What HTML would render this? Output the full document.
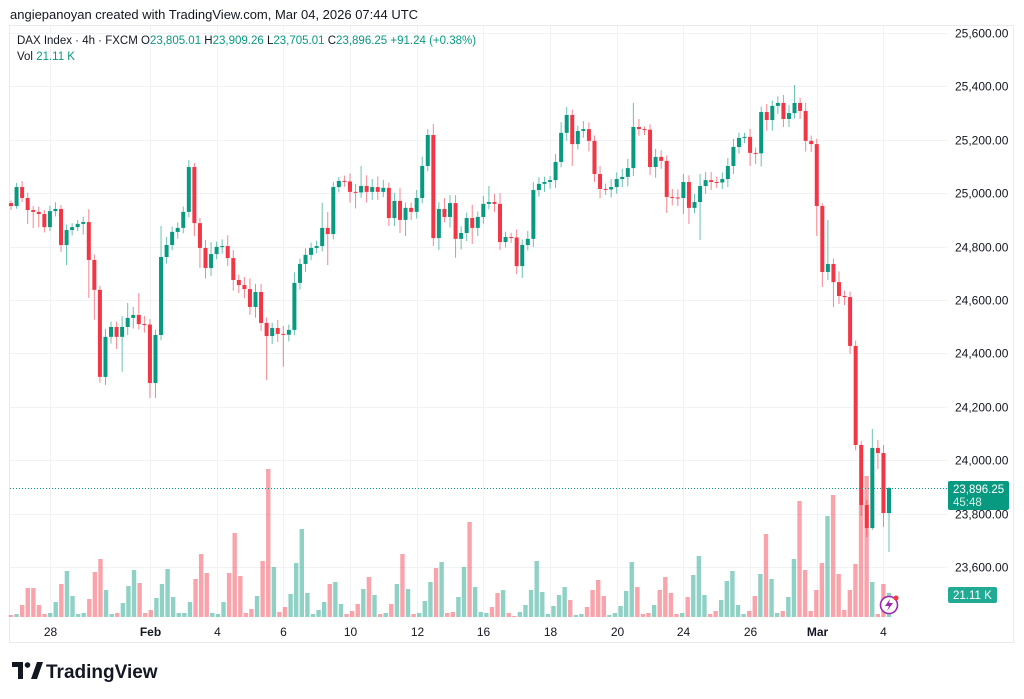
<!DOCTYPE html>
<html><head><meta charset="utf-8">
<style>
body{margin:0;background:#fff;font-family:"Liberation Sans",sans-serif;}
#wrap{position:relative;width:1024px;height:699px;overflow:hidden;background:#fff;}
svg text{font-family:"Liberation Sans",sans-serif;}
</style></head>
<body>
<div id="wrap">
<svg id="chart" width="1024" height="699" viewBox="0 0 1024 699">
  <text x="10" y="19" font-size="13" fill="#131722">angiepanoyan created with TradingView.com, Mar 04, 2026 07:44 UTC</text>
  <rect x="9.5" y="25.5" width="1004" height="617" fill="none" stroke="#e8eaee"/>
  <g id="grid"></g>
  <g id="vol"></g>
  <g id="candles"></g>
  <g id="axis"></g>
  <g id="taxis"></g>
  <line x1="10" x2="947" y1="488.5" y2="488.5" stroke="#089981" stroke-dasharray="1 2"/>
  <g>
    <rect x="948" y="481" width="61" height="29" rx="2" fill="#089981"/>
    <text x="953" y="493" font-size="11.5" fill="#fff">23,896.25</text>
    <text x="953" y="506" font-size="11.5" fill="#d8efe9">45:48</text>
  </g>
  <g>
    <rect x="948" y="587" width="49" height="16" rx="2" fill="#22ab94"/>
    <text x="953" y="599" font-size="11.5" fill="#fff">21.11 K</text>
  </g>
  <g>
    <text x="17" y="44" font-size="11.5" fill="#131722">DAX Index · 4h · FXCM <tspan>O</tspan><tspan fill="#089981">23,805.01</tspan><tspan>  H</tspan><tspan fill="#089981">23,909.26</tspan><tspan>  L</tspan><tspan fill="#089981">23,705.01</tspan><tspan>  C</tspan><tspan fill="#089981">23,896.25  +91.24 (+0.38%)</tspan></text>
    <text x="17" y="60" font-size="11.5" fill="#131722">Vol  <tspan fill="#089981">21.11 K</tspan></text>
  </g>
  <g>
    <circle cx="889" cy="605" r="8.5" fill="#fff" stroke="#9c27b0" stroke-width="1.6"/>
    <path d="M890 599 L885 606 L889 606 L887 611 L893 603 L889 603 Z" fill="#9c27b0"/>
    <circle cx="896" cy="598" r="2.5" fill="#f23645"/>
  </g>
  <g>
    <path d="M12 662 h11 v17 h-5 v-12 h-6 z" fill="#131722"/>
    <circle cx="27.5" cy="665" r="2.8" fill="#131722"/>
    <path d="M31 679 l6 -17 h6 l-6 17 z" fill="#131722"/>
    <text x="46" y="678" font-size="19" font-weight="bold" fill="#131722">TradingView</text>
  </g>
</svg>
</div>
<script>
const closes=[24963,24952,25023,24982,24937,24930,24922,24873,24933,24941,24806,
24862,24873,24885,24892,24750,24638,24312,24462,24499,24462,
24499,24533,24544,24510,24508,24289,24469,24761,24806,24855,
24870,24930,25098,24888,24795,24720,24772,24799,24802,24757,
24675,24656,24641,24574,24630,24514,24465,24495,24473,24470,
24488,24664,24735,24769,24795,24802,24870,24847,25023,25046,
25044,25005,25003,25027,25005,25023,25005,25020,24907,24971,
24900,24945,24930,24982,25102,25218,24832,24941,24911,24963,
24829,24851,24907,24870,24911,24960,24967,24960,24817,24836,
24834,24727,24806,24829,25012,25035,25042,25049,25117,25226,
25293,25184,25233,25240,25196,25072,25016,25014,25023,25053,
25061,25094,25248,25240,25238,25098,25136,25121,24986,24984,
24982,25042,24945,24967,25027,25049,25042,25040,25053,25102,
25173,25207,25211,25151,25149,25304,25274,25327,25338,25278,
25300,25338,25308,25196,25184,24952,24705,24735,24667,24615,
24611,24428,24057,23832,23746,24046,24027,23802,23896];
const wickUp=[10,15,22,20,15,20,15,20,25,15,
20,15,15,20,48,20,15,30,20,20,
40,56,30,82,30,20,20,116,30,20,
20,20,26,15,20,30,45,20,25,40,
30,20,30,40,30,30,20,20,30,30,
20,40,20,25,20,20,94,60,20,15,
20,30,30,75,40,30,40,30,20,30,
49,20,20,30,35,22,41,25,40,30,
30,25,20,50,20,30,60,30,40,20,
15,30,20,30,30,25,20,15,30,40,
30,20,20,30,25,20,30,20,30,25,
30,35,90,30,10,20,30,25,20,30,
30,30,25,30,45,30,30,20,25,30,
30,20,15,30,20,20,30,20,25,30,
30,67,20,30,20,20,10,165,20,40,
20,20,20,15,20,71,30,30,4];
const wickDn=[15,10,15,52,60,50,20,15,20,26,
75,20,15,40,142,112,22,30,25,45,
131,30,40,20,30,56,56,20,25,20,
25,20,20,49,75,40,30,20,25,30,
40,30,35,30,40,30,165,30,30,120,
25,20,25,30,20,20,20,116,20,20,
20,40,60,20,40,30,30,20,30,30,
49,60,30,25,20,20,30,45,20,40,
71,40,30,60,30,25,20,30,30,20,
20,30,45,20,30,25,30,25,30,20,
30,82,20,25,40,30,35,20,30,25,
30,35,30,25,20,30,40,30,60,30,
30,60,60,20,142,30,30,20,25,30,
30,25,20,49,40,49,40,40,30,30,
30,20,30,40,30,112,56,30,94,30,
30,30,20,40,34,7,60,52,146];
const volumes=[2,3,12,29,29,12,3,4,15,33,46,21,3,4,18,45,58,27,3,4,
14,31,47,34,4,7,19,33,48,20,4,4,15,38,63,44,4,3,15,44,
84,41,4,8,21,56,148,50,5,10,23,54,88,24,3,7,15,33,35,13,
3,6,13,28,40,22,3,4,13,33,63,28,3,4,16,35,49,55,4,5,
20,50,95,30,5,4,10,24,27,4,1,5,12,27,56,25,3,11,22,
30,17,2,3,10,27,37,21,2,4,11,26,55,30,3,4,12,27,40,24,
3,4,20,42,61,22,3,6,17,36,46,12,3,6,21,43,83,38,4,6,
20,58,116,47,6,27,54,101,122,43,7,27,53,112,141,35,3,33,24];
const priceTicks=[25600,25400,25200,25000,24800,24600,24400,24200,24000,23800,23600];
const dateLabels=["28","Feb","4","6","10","12","16","18","20","24","26","Mar","4"];
const dateIndex=[7,25,37,49,61,73,85,97,109,121,133,145,157];

const NS="http://www.w3.org/2000/svg";
const X0=11, X1=889;
const n=closes.length-1;
const step=(X1-X0)/(n-1);
function xOf(i){return X0+i*step;}
function yOf(p){return 33+(25600-p)*0.267;}
const VB=617;
function vY(v){return VB-v*1.0;}
function mk(tag,attrs,parent){const e=document.createElementNS(NS,tag);for(const k in attrs)e.setAttribute(k,attrs[k]);parent.appendChild(e);return e;}
const grid=document.getElementById('grid'),axis=document.getElementById('axis'),taxis=document.getElementById('taxis');
priceTicks.forEach(p=>{
  const y=Math.round(yOf(p))+0.5;
  const l=mk('line',{x1:10,x2:947,y1:y,y2:y,stroke:'#f0f2f5'},grid);
  
  
  const t=mk('text',{x:955,y:y+4,'font-size':12,fill:'#131722'},axis);
  t.textContent=p.toLocaleString('en-US',{minimumFractionDigits:2});
  
  
});
dateLabels.forEach((d,k)=>{
  const x=Math.round(xOf(dateIndex[k]))+0.5;
  const l=mk('line',{x1:x,x2:x,y1:26,y2:620,stroke:'#f0f2f5'},grid);
  
  
  const t=mk('text',{x:x,y:636,'font-size':12,fill:'#131722','text-anchor':'middle','font-weight':(d==='Feb'||d==='Mar')?'bold':'normal'},taxis);
  t.textContent=d;
  
  
});
const vg=document.getElementById('vol'),cg=document.getElementById('candles');
const nv=volumes.length, vstep=(X1-X0)/(nv-1);
volumes.forEach((v,i)=>{
  const ii=Math.min(n,Math.round(i*(n-1)/(nv-1))+1);
  const up=closes[ii]>=closes[ii-1];
  const r=mk('rect',{x:X0+i*vstep-2.2,y:vY(v),width:4.4,height:v,fill:up?'rgba(8,153,129,0.45)':'rgba(242,54,69,0.45)'},vg);
  
  
});
for(let i=1;i<=n;i++){
  const o=closes[i-1],c=closes[i];
  const up=c>=o, col=up?'#089981':'#f23645';
  const x=xOf(i-1);
  const hi=Math.max(o,c)+wickUp[i-1], lo=Math.min(o,c)-wickDn[i-1];
  const w=mk('line',{x1:x,x2:x,y1:yOf(hi),y2:yOf(lo),stroke:col,'stroke-width':1,opacity:0.6},cg);
  
  
  const yt=yOf(Math.max(o,c)), yb=yOf(Math.min(o,c));
  const b=mk('rect',{x:x-2,y:yt,width:4,height:Math.max(1,yb-yt),fill:col},cg);
  
  
}
</script>
</body></html>
